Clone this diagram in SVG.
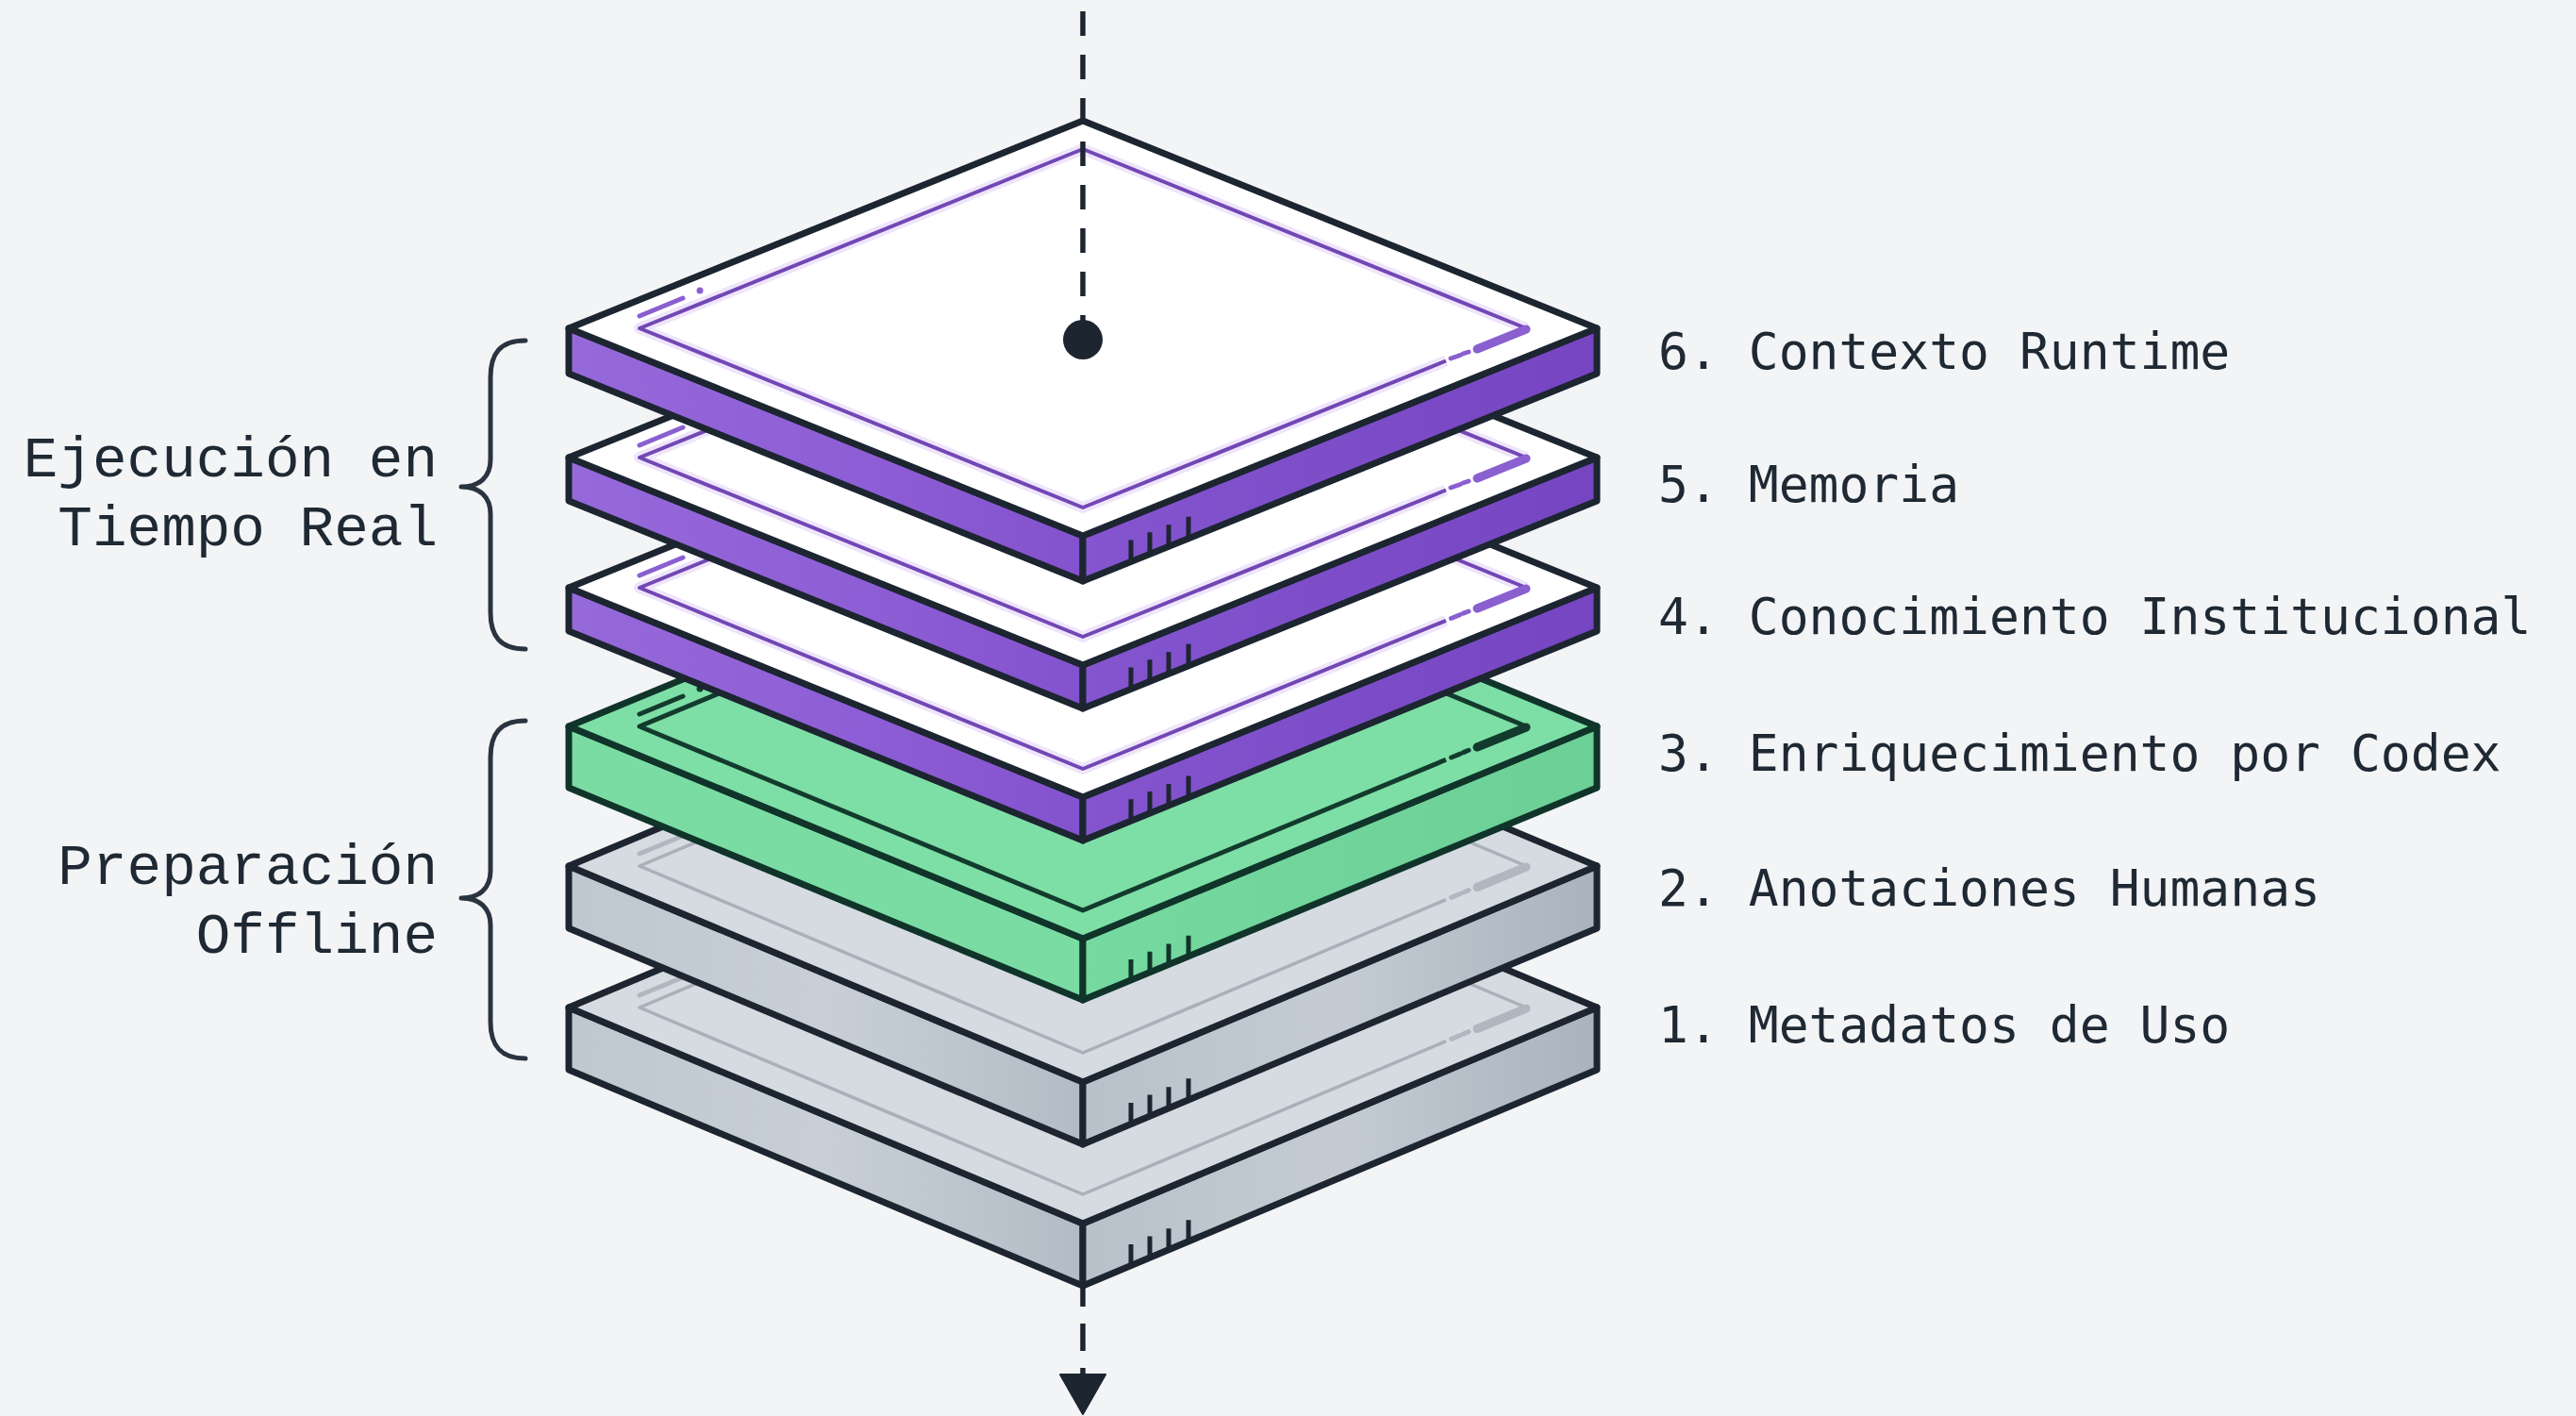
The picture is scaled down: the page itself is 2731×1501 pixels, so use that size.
<svg xmlns="http://www.w3.org/2000/svg" width="2731" height="1501" viewBox="0 0 2731 1501">
<defs>
<linearGradient id="pl" x1="0" y1="0" x2="1" y2="0"><stop offset="0" stop-color="#9669da"/><stop offset="0.6" stop-color="#8d5dd5"/><stop offset="1" stop-color="#8352cd"/></linearGradient>
<linearGradient id="pr" x1="0" y1="0" x2="1" y2="0"><stop offset="0" stop-color="#8455cf"/><stop offset="1" stop-color="#7645c2"/></linearGradient>
<linearGradient id="gr" x1="0" y1="0" x2="1" y2="0"><stop offset="0" stop-color="#76d9a0"/><stop offset="1" stop-color="#6ccf96"/></linearGradient>
<linearGradient id="sl" x1="0" y1="0" x2="1" y2="0"><stop offset="0" stop-color="#bfc7cf"/><stop offset="0.5" stop-color="#c8cfd6"/><stop offset="1" stop-color="#b3bcc6"/></linearGradient>
<linearGradient id="sr" x1="0" y1="0" x2="1" y2="0"><stop offset="0" stop-color="#b8c1ca"/><stop offset="0.5" stop-color="#c4cbd3"/><stop offset="1" stop-color="#a9b3be"/></linearGradient>
<style>
.ol{stroke:#1c2530;stroke-width:7;stroke-linejoin:round}
.gol{stroke:#10342a;stroke-width:7;stroke-linejoin:round}
.p-top{fill:#ffffff}.p-sl{fill:url(#pl)}.p-sr{fill:url(#pr)}
.p-glow{fill:none;stroke:#efe5fb;stroke-width:12;stroke-linejoin:round}
.p-in{fill:none;stroke:#7247b5;stroke-width:4;stroke-linejoin:round}
.p-thick{stroke:#8a5fd0;stroke-width:9;stroke-linecap:round}
.p-d{stroke:#8a5fd0;stroke-width:5;stroke-linecap:round;fill:none}
.p-dot{fill:#8a5fd0}
.g-top{fill:#7ddfa6}.g-sl{fill:#7adca3}.g-sr{fill:url(#gr)}
.g-in{fill:none;stroke:#133b2d;stroke-width:5;stroke-linejoin:round}
.g-thick{stroke:#133b2d;stroke-width:9;stroke-linecap:round}
.g-d{stroke:#133b2d;stroke-width:5;stroke-linecap:round;fill:none}
.g-dot{fill:#133b2d}
.s-top{fill:#d6dbe1}.s-sl{fill:url(#sl)}.s-sr{fill:url(#sr)}
.s-in{fill:none;stroke:#a9b0b8;stroke-width:3.5;stroke-linejoin:round}
.s-thick{stroke:#b0b7bf;stroke-width:9;stroke-linecap:round}
.s-d{stroke:#b0b7bf;stroke-width:5;stroke-linecap:round;fill:none}
.s-dot{fill:#b0b7bf}
.tick{stroke:#1c2530;stroke-width:5;fill:none}
.gtick{stroke:#10342a;stroke-width:5;fill:none}
.brace{fill:none;stroke:#2a3440;stroke-width:5;stroke-linecap:round;stroke-linejoin:round}
.lbl-l{font-family:"Liberation Mono","DejaVu Sans Mono",monospace;font-size:61px;fill:#1f2933;text-anchor:end}
.lbl-r{font-family:"DejaVu Sans Mono","Liberation Mono",monospace;font-size:53px;fill:#1f2933}
.dash{stroke:#1c2530;stroke-width:5.5;fill:none}
</style>
</defs>
<rect x="0" y="0" width="2731" height="1501" fill="#f3f4f6"/>

<g id="layer-1">
<polygon class="ol s-sl" points="603,1068 1148,1297 1148,1363 603,1134"/>
<polygon class="ol s-sr" points="1148,1297 1693,1068 1693,1134 1148,1363"/>
<polygon class="ol s-top" points="1148,839 1693,1068 1148,1297 603,1068"/>
<path class="s-in" d="M1533,1103.7 L1148,1266 L678,1068 L1148,870 L1618,1068"/>
<path class="s-thick" d="M1618,1069 L1566,1090.5"/>
<path class="s-d" d="M1557,1093.6 L1551.6,1096 M1548,1097.5 L1538.7,1101.4"/>
<path class="s-d" d="M678,1055 L724,1036"/>
<circle class="s-dot" cx="742" cy="1028" r="3.5"/>
<path class="tick" d="M1199,1341.6 V1319 M1219,1333.2 V1310.6 M1239,1324.8 V1302.2 M1260,1315.9 V1293.3"/>
</g>

<g id="layer-2">
<polygon class="ol s-sl" points="603,918 1148,1147 1148,1213 603,984"/>
<polygon class="ol s-sr" points="1148,1147 1693,918 1693,984 1148,1213"/>
<polygon class="ol s-top" points="1148,689 1693,918 1148,1147 603,918"/>
<path class="s-in" d="M1533,953.7 L1148,1116 L678,918 L1148,720 L1618,918"/>
<path class="s-thick" d="M1618,919 L1566,940.5"/>
<path class="s-d" d="M1557,943.6 L1551.6,946 M1548,947.5 L1538.7,951.4"/>
<path class="s-d" d="M678,905 L724,886"/>
<circle class="s-dot" cx="742" cy="878" r="3.5"/>
<path class="tick" d="M1199,1191.6 V1169 M1219,1183.2 V1160.6 M1239,1174.8 V1152.2 M1260,1165.9 V1143.3"/>
</g>

<g id="layer-3">
<polygon class="gol g-sl" points="603,770 1148,995 1148,1060 603,835"/>
<polygon class="gol g-sr" points="1148,995 1693,770 1693,835 1148,1060"/>
<polygon class="gol g-top" points="1148,545 1693,770 1148,995 603,770"/>
<path class="g-in" d="M1533,805.3 L1148,965 L678,770 L1148,575 L1618,770"/>
<path class="g-thick" d="M1618,771 L1566,792"/>
<path class="g-d" d="M1557,795.3 L1551.5,797.6 M1548,799.1 L1538.6,803"/>
<path class="g-d" d="M678,757 L724,738"/>
<circle class="g-dot" cx="742" cy="730" r="3.5"/>
<path class="gtick" d="M1199,1038.9 V1016.9 M1219,1030.7 V1008.7 M1239,1022.4 V1000.4 M1260,1013.8 V991.8"/>
</g>

<g id="layer-4">
<polygon class="ol p-sl" points="603,623 1148,845 1148,891 603,669"/>
<polygon class="ol p-sr" points="1148,845 1693,623 1693,669 1148,891"/>
<polygon class="ol p-top" points="1148,401 1693,623 1148,845 603,623"/>
<path class="p-glow" d="M1533,657.8 L1148,815 L678,623 L1148,431 L1618,623"/>
<path class="p-in" d="M1533,657.8 L1148,815 L678,623 L1148,431 L1618,623"/>
<path class="p-thick" d="M1618,624 L1566,645"/>
<path class="p-d" d="M1557,648 L1551.4,650.2 M1547.6,651.7 L1538.4,655.5"/>
<path class="p-d" d="M678,610 L724,591"/>
<circle class="p-dot" cx="742" cy="583" r="3.5"/>
<path class="tick" d="M1199,870.2 V847.2 M1219,862.1 V839.1 M1239,853.9 V830.9 M1260,845.4 V822.4"/>
</g>

<g id="layer-5">
<polygon class="ol p-sl" points="603,485 1148,705 1148,751 603,531"/>
<polygon class="ol p-sr" points="1148,705 1693,485 1693,531 1148,751"/>
<polygon class="ol p-top" points="1148,265 1693,485 1148,705 603,485"/>
<path class="p-glow" d="M1533,519.5 L1148,675 L678,485 L1148,295 L1618,485"/>
<path class="p-in" d="M1533,519.5 L1148,675 L678,485 L1148,295 L1618,485"/>
<path class="p-thick" d="M1618,486 L1566,507"/>
<path class="p-d" d="M1557,510 L1551,512 M1548,513.5 L1538,517"/>
<path class="p-d" d="M678,472 L724,453"/>
<circle class="p-dot" cx="742" cy="445" r="3.5"/>
<path class="tick" d="M1199,730.4 V707.4 M1219,722.3 V699.3 M1239,714.3 V691.3 M1260,705.8 V682.8"/>
</g>

<g id="layer-6">
<polygon class="ol p-sl" points="603,348 1148,568 1148,616 603,396"/>
<polygon class="ol p-sr" points="1148,568 1693,348 1693,396 1148,616"/>
<polygon class="ol p-top" points="1148,128 1693,348 1148,568 603,348"/>
<path class="p-glow" d="M1533,382.5 L1148,538 L678,348 L1148,158 L1618,348"/>
<path class="p-in" d="M1533,382.5 L1148,538 L678,348 L1148,158 L1618,348"/>
<path class="p-thick" d="M1618,349 L1566,370"/>
<path class="p-d" d="M1557,373 L1551,375 M1548,376.5 L1538,380"/>
<path class="p-d" d="M678,335 L724,316"/>
<circle class="p-dot" cx="742" cy="308" r="3.5"/>
<path class="tick" d="M1199,595.4 V572.4 M1219,587.3 V564.3 M1239,579.3 V556.3 M1260,570.8 V547.8"/>
</g>

<g id="connectors">
<line class="dash" x1="1148" y1="12" x2="1148" y2="352" stroke-dasharray="26 20"/>
<circle cx="1148" cy="360" r="21" fill="#1c2530"/>
<path class="dash" d="M1148,1363 V1385 M1148,1403 V1432 M1148,1450 V1460"/>
<polygon points="1124,1457 1172,1457 1148,1499" fill="#1c2530" stroke="#1c2530" stroke-width="2" stroke-linejoin="round"/>
</g>

<g id="group-realtime">
<path class="brace" d="M557,361 C530,361 520,375 520,400 L520,487 C520,506 508,516 489,516 C508,516 520,526 520,545 L520,649 C520,674 530,688 557,688"/>
<text class="lbl-l" x="464" y="505">Ejecución en</text>
<text class="lbl-l" x="464" y="578">Tiempo Real</text>
</g>

<g id="group-offline">
<path class="brace" d="M557,764 C530,764 520,778 520,803 L520,923 C520,942 508,952 489,952 C508,952 520,962 520,981 L520,1083 C520,1108 530,1122 557,1122"/>
<text class="lbl-l" x="464" y="937">Preparación</text>
<text class="lbl-l" x="464" y="1010">Offline</text>
</g>

<g id="labels">
<text class="lbl-r" x="1758" y="391">6. Contexto Runtime</text>
<text class="lbl-r" x="1758" y="532">5. Memoria</text>
<text class="lbl-r" x="1758" y="672">4. Conocimiento Institucional</text>
<text class="lbl-r" x="1758" y="817">3. Enriquecimiento por Codex</text>
<text class="lbl-r" x="1758" y="960">2. Anotaciones Humanas</text>
<text class="lbl-r" x="1758" y="1105">1. Metadatos de Uso</text>
</g>
</svg>
